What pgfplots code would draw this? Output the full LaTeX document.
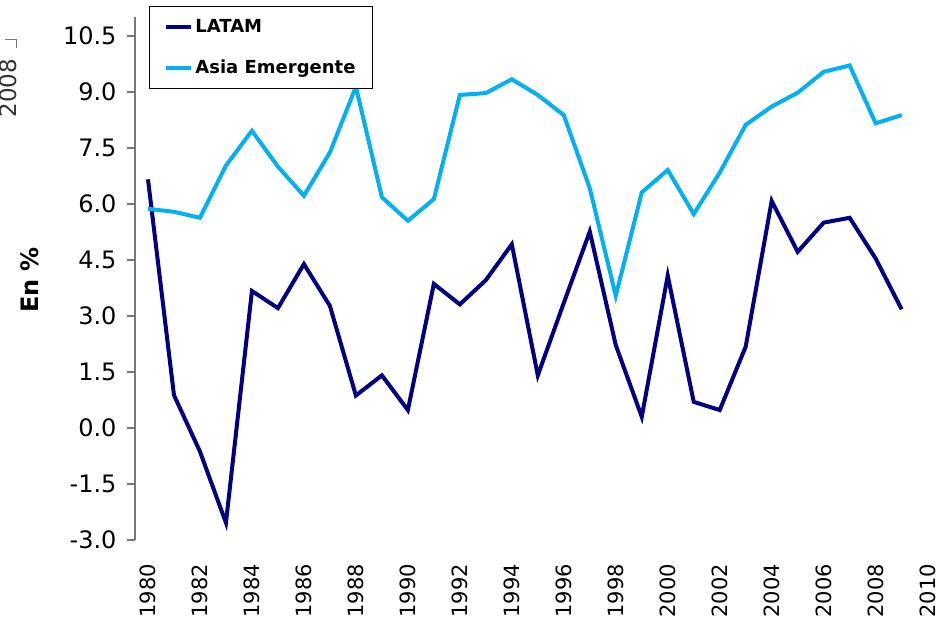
\documentclass[border=0pt]{standalone}
\usepackage{fontspec}
\setmainfont{DejaVu Sans}
\usepackage{pgfplots}
\usepackage{pgfplotstable}
\pgfplotsset{compat=1.18}
\usetikzlibrary{calc}
\definecolor{latam}{RGB}{0,0,128}
\definecolor{asia}{RGB}{0,176,240}
\definecolor{axgray}{RGB}{120,120,120}

\pgfplotstableread{
year latam asia
1980 6.66 5.87
1981 0.88 5.79
1982 -0.63 5.63
1983 -2.54 7.03
1984 3.67 7.96
1985 3.21 7.00
1986 4.39 6.22
1987 3.27 7.38
1988 0.87 9.14
1989 1.41 6.18
1990 0.48 5.55
1991 3.86 6.13
1992 3.31 8.92
1993 3.96 8.97
1994 4.92 9.34
1995 1.41 8.92
1996 3.35 8.38
1997 5.26 6.42
1998 2.22 3.54
1999 0.30 6.31
2000 4.08 6.91
2001 0.70 5.73
2002 0.48 6.84
2003 2.18 8.12
2004 6.08 8.61
2005 4.72 8.98
2006 5.50 9.54
2007 5.63 9.71
2008 4.54 8.16
2009 3.18 8.38
}\datatable

\begin{document}
\begin{tikzpicture}
\begin{axis}[
  name=ax,
  scale only axis,
  width=803pt, height=522.7pt,
  xmin=1979.5, xmax=2010.4,
  ymin=-3, ymax=11,
  axis lines*=left,
  x axis line style={draw=none},
  y axis line style={draw=axgray, line width=1.2pt},
  xtick={1980,1982,...,2010},
  ytick={-3,-1.5,0,1.5,3,4.5,6,7.5,9,10.5},
  xtick style={draw=none},
  ytick style={draw=axgray, line width=1.2pt},
  tick align=outside,
  major tick length=8pt,
  /pgf/number format/assume math mode=true,
  tick label style={text=black},
  xticklabel style={font=\fontsize{21}{25}\selectfont, yshift=-15pt, rotate=90, anchor=east, inner sep=1pt, /pgf/number format/1000 sep={}},
  yticklabel style={font=\fontsize{24}{28}\selectfont, /pgf/number format/fixed, /pgf/number format/fixed zerofill, /pgf/number format/precision=1, xshift=-7pt},
  legend style={at={(rel axis cs:0.01743,1.0216)}, anchor=north west, draw=black, line width=0.8pt,
    font=\bfseries\fontsize{18}{21}\selectfont, inner xsep=15pt, inner ysep=11pt,
    row sep=22pt},
  legend cell align=left,
  legend image code/.code={\draw[line width=4pt] (0pt,0pt) -- (25pt,0pt);},
  clip=false,
]
\coordinate (O) at (rel axis cs:0,0);
\addplot[latam, line width=4pt] table[x=year, y=latam] {\datatable};
\addlegendentry{LATAM}
\addplot[asia, line width=4pt] table[x=year, y=asia] {\datatable};
\addlegendentry{Asia Emergente}
\end{axis}
\node[rotate=90, font=\bfseries\fontsize{24}{28}\selectfont] at ($(O)+(-105pt,260pt)$) {En \%};
\node[rotate=90, font=\fontsize{23}{27}\selectfont, text=black!80] at ($(O)+(-127pt,452pt)$) {2008};
\draw[axgray, line width=1pt] ($(O)+(-130pt,500pt)$) -- ($(O)+(-118pt,500pt)$) -- ($(O)+(-118pt,492pt)$);
\pgfresetboundingbox
\path[use as bounding box] ($(O)+(-135pt,-78pt)$) rectangle ($(O)+(804pt,540pt)$);
\end{tikzpicture}
\end{document}
